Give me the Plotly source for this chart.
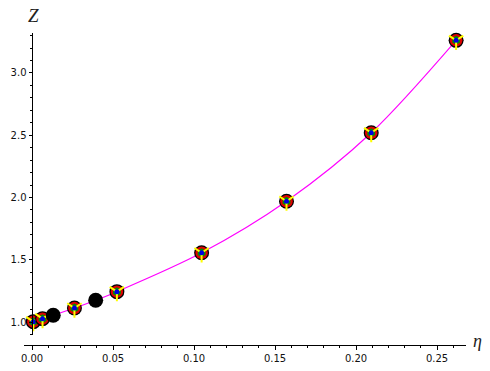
import plotly.graph_objects as go

eta = [0.0008, 0.0065, 0.0131, 0.0262, 0.0393, 0.0524, 0.1047, 0.1571, 0.2094, 0.2618]
z = [1.003, 1.027, 1.054, 1.112, 1.175, 1.244, 1.556, 1.970, 2.520, 3.262]
solid = [False, False, True, False, True, False, False, False, False, False]
x_ticks = [0.0, 0.05, 0.1, 0.15, 0.2, 0.25]
x_labels = ["0.00", "0.05", "0.10", "0.15", "0.20", "0.25"]
y_ticks = [1.0, 1.5, 2.0, 2.5, 3.0]
y_labels = ["1.0", "1.5", "2.0", "2.5", "3.0"]

W, H = 490, 371
L, R, T, B = 24, 466, 33, 345
Y_BOTTOM = 335
X0_PX = 32
x_per = 405 / 0.25
y_per = 124.6

fig = go.Figure()
fig.add_trace(go.Scatter(x=eta, y=z, mode="lines", line=dict(color="#ff00ff", width=1.1, shape="spline", smoothing=0.9),
                         hoverinfo="skip", showlegend=False))
for xv, yv, s in zip(eta, z, solid):
    layers = [("circle", 15, "black", 0)]
    if not s:
        layers += [("circle", 12.5, "#e00000", 0),
                   ("hexagon", 9, "#009000", 0),
                   ("y-down-open", 12, "#ffff00", 2),
                   ("circle", 5, "#0000dd", 0)]
    for sym, size, col, lw in layers:
        m = dict(symbol=sym, size=size, color=col, line=dict(width=lw, color=col))
        fig.add_trace(go.Scatter(x=[xv], y=[yv], mode="markers", marker=m, cliponaxis=False,
                                 hoverinfo="skip", showlegend=False))

axis_common = dict(showgrid=False, zeroline=False, showline=True, linecolor="black", linewidth=1,
                   ticks="outside", ticklen=3.5, tickwidth=1, tickcolor="black", automargin=False,
                   tickfont=dict(family="DejaVu Sans", size=10, color="#111111"))
fig.update_layout(
    width=W, height=H, autosize=False, paper_bgcolor="white", plot_bgcolor="white",
    margin=dict(l=L, r=W - R, t=T, b=H - B, pad=0),
    xaxis=dict(range=[(L - X0_PX) / x_per, (R - X0_PX) / x_per], anchor="free", position=0,
               tickvals=x_ticks, ticktext=x_labels,
               minor=dict(dtick=0.01, ticks="outside", ticklen=2, tickwidth=0.7, tickcolor="black"),
               **axis_common),
    yaxis=dict(domain=[(B - Y_BOTTOM) / (B - T), 1], anchor="free", position=(X0_PX - L) / (R - L),
               range=[1 - (Y_BOTTOM - 322) / y_per, 3 + (73 - T) / y_per],
               tickvals=y_ticks, ticktext=y_labels,
               minor=dict(dtick=0.1, ticks="outside", ticklen=2, tickwidth=0.7, tickcolor="black"),
               **axis_common),
    annotations=[
        dict(text="<i>Z</i>", xref="paper", yref="paper", x=(33 - L) / (R - L), y=1 + (33 - 16) / (B - T),
             xanchor="center", yanchor="middle",
             showarrow=False, font=dict(family="Liberation Serif", size=19, color="#222222")),
        dict(text="<i>η</i>", xref="paper", yref="paper", x=(478 - L) / (R - L), y=(B - 341) / (B - T),
             xanchor="center", yanchor="middle",
             showarrow=False, font=dict(family="Liberation Serif", size=18, color="#222222")),
    ],
)
fig.write_html("out.html", post_script="document.body.style.margin='0';", config=dict(displayModeBar=False))
